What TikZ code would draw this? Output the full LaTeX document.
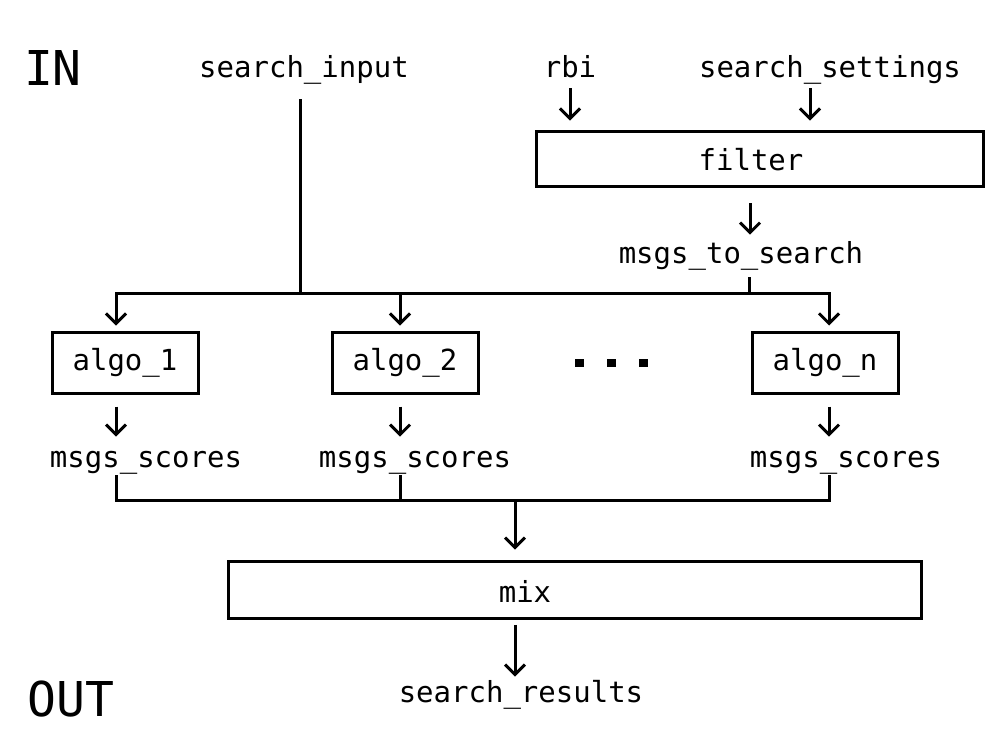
\documentclass[tikz,border=0pt]{standalone}
\usepackage{fontspec}
\newfontfamily\mono{DejaVu Sans Mono}
\usetikzlibrary{arrows.meta,calc}
\begin{document}
\begin{tikzpicture}[x=0.75pt,y=-0.75pt,
  txt/.style={font=\mono\fontsize{21.75pt}{26pt}\selectfont, inner sep=0pt, anchor=base, text height=16pt, text depth=5pt},
  big/.style={font=\mono\fontsize{36pt}{42pt}\selectfont, inner sep=0pt, anchor=base},
  box/.style={draw, line width=2.25pt, inner sep=0pt, font=\mono\fontsize{21.75pt}{26pt}\selectfont},
  ln/.style={line width=2.25pt},
  arr/.style={ln, -{Straight Barb[length=7.5pt,width=15pt]}}]
\useasboundingbox (0,0) rectangle (1000,750);

% labels
\node[big] (in) at (53,85) {IN};
\node[big] (out) at (71,716) {OUT};
\node[txt] (sin) at (304,77) {search\_input};
\node[txt] (rbi) at (570,77) {rbi};
\node[txt] (sset) at (830,77) {search\_settings};

% filter
\node[box, minimum width=447*0.75pt, minimum height=55*0.75pt] (filter) at (760,159) {};
\node[txt] (filtertxt) at (751,170) {filter};
\node[txt] (mts) at (741,263) {msgs\_to\_search};

% algos
\node[box, minimum width=146*0.75pt, minimum height=61*0.75pt] (a1) at (125,362.5) {algo\_1};
\node[box, minimum width=146*0.75pt, minimum height=61*0.75pt] (a2) at (405,362.5) {algo\_2};
\node[box, minimum width=146*0.75pt, minimum height=61*0.75pt] (an) at (825,362.5) {algo\_n};
\fill (574.5,359) rectangle ++(9,8);
\fill (606.5,359) rectangle ++(9,8);
\fill (638.5,359) rectangle ++(9,8);

\node[txt] (ms1) at (146,467) {msgs\_scores};
\node[txt] (ms2) at (415,467) {msgs\_scores};
\node[txt] (ms3) at (846,467) {msgs\_scores};

% mix
\node[box, minimum width=693*0.75pt, minimum height=56.5*0.75pt] (mix) at (575,590) {};
\node[txt] (mixtxt) at (525,602) {mix};
\node[txt] (sr) at (521,702) {search\_results};

% coordinates
\coordinate (top) at (300,293);
\coordinate (busL) at (116,293);
\coordinate (busM) at (400,293);
\coordinate (busR) at (829,293);
\coordinate (busF) at (749,293);
\coordinate (b2L) at (116,500);
\coordinate (b2M) at (400,500);
\coordinate (b2R) at (829,500);
\coordinate (b2C) at (515,500);
\coordinate (rbix) at (570,0);
\coordinate (ssx) at (810,0);
\coordinate (fx) at (750,0);

% top inputs
\draw[arr, shorten <=3.2pt, shorten >=7.1pt] (rbix |- rbi.south) -- (rbix |- filter.north);
\draw[arr, shorten <=3.2pt, shorten >=7.1pt] (ssx |- sset.south) -- (ssx |- filter.north);
\draw[arr, shorten <=11.3pt, shorten >=5pt] (fx |- filter.south) -- (fx |- mts.north);

% upper bus
\draw[ln, shorten <=11.5pt] (top |- sin.south) -- (top);
\draw[ln, shorten <=5.5pt] (busF |- mts.south) -- (busF);
\draw[arr, shorten >=3.75pt] (top) -- (busL) -- (busL |- a1.north);
\draw[arr, shorten >=3.75pt] (top) -- (busR) -- (busR |- an.north);
\draw[arr, shorten >=3.75pt] (busM) -- (busM |- a2.north);

% algo outputs
\draw[arr, shorten <=9pt, shorten >=6.5pt] (busL |- a1.south) -- (busL |- ms1.north);
\draw[arr, shorten <=9pt, shorten >=6.5pt] (busM |- a2.south) -- (busM |- ms2.north);
\draw[arr, shorten <=9pt, shorten >=6.5pt] (busR |- an.south) -- (busR |- ms3.north);

% lower bus
\draw[ln, shorten <=1pt, shorten >=1pt] (b2L |- ms1.south) -- (b2L) -- (b2R) -- (b2R |- ms3.south);
\draw[ln, shorten <=1pt] (b2M |- ms2.south) -- (b2M);
\draw[arr, shorten >=7.9pt] (b2C) -- (b2C |- mix.north);
\draw[arr, shorten <=3.75pt, shorten >=2.8pt] (b2C |- mix.south) -- (b2C |- sr.north);
\end{tikzpicture}
\end{document}
